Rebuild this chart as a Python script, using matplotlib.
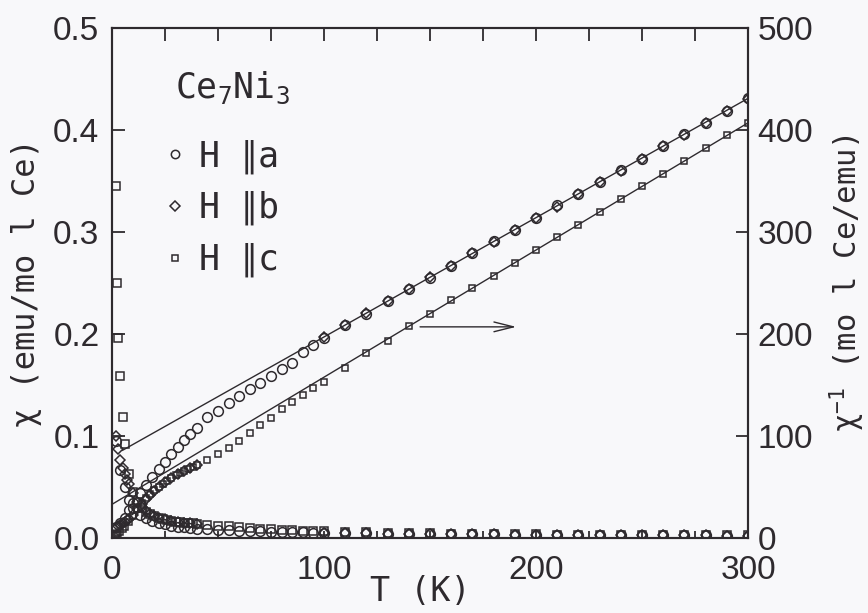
import numpy as np
import matplotlib
matplotlib.use("Agg")
import matplotlib.pyplot as plt
from matplotlib.lines import Line2D

# =====================================
# inverse susceptibility data (mol Ce/emu)
# =====================================

temp_a = [2, 4, 6, 8, 10, 13, 16, 19, 22, 25, 28, 31, 34, 37, 40,
          45, 50, 55, 60, 65, 70, 75, 80, 85, 90, 95,
          100, 110, 120, 130, 140, 150, 160, 170, 180, 190, 200,
          210, 220, 230, 240, 250, 260, 270, 280, 290, 300]
inv_a = [10.5, 15, 20, 27, 34, 44, 52, 60, 68, 75, 82, 89, 96, 102, 108,
         119, 125, 132, 139, 146, 152, 159, 166, 172, 182, 189,
         196, 209, 220, 232, 244, 255, 267, 279, 291, 302, 314,
         326, 337, 349, 361, 372, 384, 396, 407, 419, 431]

temp_b = [2, 3, 4, 5, 6, 7, 8, 10, 12, 14, 16, 18, 20, 22, 25, 28, 31, 34, 37, 40,
          100, 110, 120, 130, 140, 150, 160, 170, 180, 190, 200,
          210, 220, 230, 240, 250, 260, 270, 280, 290, 300]
inv_b = [10, 11.5, 13, 14.5, 16, 17.5, 19, 22.5, 28, 33, 38, 42, 46, 50, 55, 59, 63, 66, 69, 72,
         197, 209, 221, 232, 244, 256, 267, 279, 290, 302, 314,
         325, 337, 349, 360, 372, 384, 395, 407, 419, 430]

temp_c = [2, 2.5, 3, 4, 5, 6, 8, 10, 12, 14, 16, 18, 20, 22, 24, 26, 28, 30,
          32, 34, 36, 38, 40,
          45, 50, 55, 60, 65, 70, 75, 80, 85, 90, 95,
          100, 110, 120, 130, 140, 150, 160, 170, 180, 190, 200,
          210, 220, 230, 240, 250, 260, 270, 280, 290, 300]
inv_c = [2.9, 4.0, 5.1, 6.3, 8.4, 10.8, 16, 22, 28, 34, 39, 43, 47, 50, 53, 56, 59, 62,
         64, 66, 68, 70, 72,
         76, 82, 88, 95, 103, 111, 118, 126, 133, 140, 147,
         153, 167, 181, 193, 208, 220, 233, 245, 257, 270, 282,
         295, 307, 320, 332, 345, 357, 370, 382, 395, 407]

# Curie-Weiss fit lines
fit_ab_temp = [5, 300]
fit_ab_inv = [86, 431]
fit_c_temp = [0, 300]
fit_c_inv = [33, 407]

# susceptibility is the reciprocal of the measured inverse data
chi_a = 1.0 / np.array(inv_a)
chi_b = 1.0 / np.array(inv_b)
chi_c = 1.0 / np.array(inv_c)

# =====================================
# style
# =====================================

ink = "#2e2a2e"
mono = ["DejaVu Sans Mono", "DejaVu Sans"]
plt.rcParams["font.family"] = ["Liberation Sans", "DejaVu Sans"]
plt.rcParams["mathtext.default"] = "regular"
plt.rcParams["axes.linewidth"] = 1.5
plt.rcParams["axes.edgecolor"] = ink

fig = plt.figure(figsize=(8.68, 6.13), dpi=100, facecolor="#f8f8fa")
ax = fig.add_axes([112 / 868, 1 - 538 / 613, 636 / 868, 510 / 613])
ax.set_facecolor("none")
ax2 = ax.twinx()

mk = dict(linestyle="none", markerfacecolor="none", markeredgecolor=ink,
          markeredgewidth=1.1)

# susceptibility, left axis
ax.plot(temp_c, chi_c, marker="s", markersize=6, **mk)
ax.plot(temp_b, chi_b, marker="D", markersize=5.5, **mk)
ax.plot(temp_a, chi_a, marker="o", markersize=7, **mk)

# inverse susceptibility, right axis
ax2.plot(fit_ab_temp, fit_ab_inv, color=ink, linewidth=1.0)
ax2.plot(fit_c_temp, fit_c_inv, color=ink, linewidth=1.0)
ax2.plot(temp_c, inv_c, marker="s", markersize=5, **mk)
ax2.plot(temp_b, inv_b, marker="D", markersize=5, **mk)
ax2.plot(temp_a, inv_a, marker="o", markersize=7, **mk)

# arrow pointing to the right axis
ax2.annotate("", xy=(192, 207), xytext=(144, 207),
             arrowprops=dict(arrowstyle="->,head_length=1.4,head_width=0.35",
                             color=ink, linewidth=1.0))

# =====================================
# axes
# =====================================

ax.set_xlim(0, 300)
ax.set_ylim(0, 0.5)
ax2.set_ylim(0, 500)

ax.set_xticks([0, 100, 200, 300])
ax.set_xticks(np.arange(25, 300, 25), minor=True)
ax.set_yticks([0.0, 0.1, 0.2, 0.3, 0.4, 0.5])
ax.set_yticklabels(["0.0", "0.1", "0.2", "0.3", "0.4", "0.5"])
ax2.set_yticks([0, 100, 200, 300, 400, 500])

ax.tick_params(axis="x", which="both", direction="in", top=True,
               length=9, width=1.3, color=ink, labelsize=24, pad=12,
               labelcolor=ink)
ax.tick_params(axis="y", which="both", direction="in", right=False,
               length=9, width=1.3, color=ink, labelsize=24, pad=9,
               labelcolor=ink)
ax2.tick_params(axis="y", direction="in", length=9, width=1.3, color=ink,
                labelsize=24, pad=7, labelcolor=ink)

# shorter ticks along the bottom edge
for tick in ax.xaxis.get_major_ticks() + ax.xaxis.get_minor_ticks():
    tick.tick1line.set_markersize(5)

ax.set_xlabel("T (K)", family=mono, fontsize=24, color=ink)
ax.xaxis.set_label_coords(0.484, -0.072)
ax.set_ylabel("χ (emu/mo l Ce)", family=mono, fontsize=23, color=ink,
              labelpad=8)
ax2.set_ylabel("χ$^{-1}$ (mo l Ce/emu)", family=mono, fontsize=22,
               color=ink, labelpad=10)

# =====================================
# legend
# =====================================

ax.text(0.099, 0.882, "Ce$_7$Ni$_3$", transform=ax.transAxes,
        family=mono, fontsize=25, color=ink, va="center", ha="left")

handles = [
    Line2D([], [], marker="o", markersize=6, **mk),
    Line2D([], [], marker="D", markersize=5, **mk),
    Line2D([], [], marker="s", markersize=5, **mk),
]
ax.legend(handles, ["H ∥a", "H ∥b", "H ∥c"], loc="upper left",
          bbox_to_anchor=(0.077, 0.782), frameon=False, borderpad=0,
          borderaxespad=0, handlelength=0.8, handletextpad=0.3,
          labelspacing=0.5, prop=dict(family=mono, size=25),
          labelcolor=ink)

fig.savefig("out.png", dpi=100, facecolor=fig.get_facecolor())
